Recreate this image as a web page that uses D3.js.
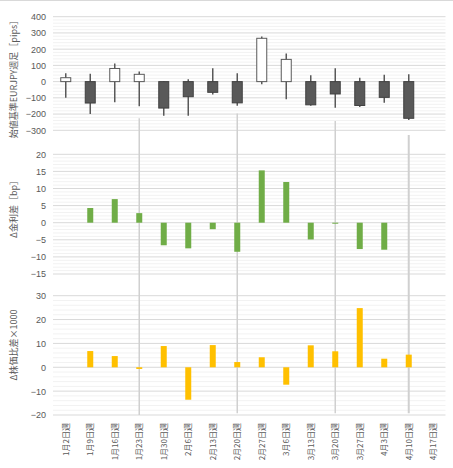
<!DOCTYPE html>
<html><head><meta charset="utf-8">
<script src="https://cdn.jsdelivr.net/npm/d3@7"></script>
<style>
body{margin:0;background:#fff;}
text{font-family:"Noto Sans CJK JP","Noto Sans",sans-serif;fill:#595959;}
</style></head>
<body><svg id="c" width="453" height="468"></svg>
<script>
const weeks = ["1月2日週","1月9日週","1月16日週","1月23日週","1月30日週","2月6日週","2月13日週","2月20日週","2月27日週","3月6日週","3月13日週","3月20日週","3月27日週","4月3日週","4月10日週","4月17日週"];
// EURJPY weekly candles, open-based (open = 0)
const candleClose = [24,-132,81,45,-163,-93,-66,-131,267,137,-143,-76,-147,-97,-226,null];
const candleHigh  = [52,48,111,63,3,14,83,52,278,174,39,83,24,42,45,null];
const candleLow   = [-100,-200,-127,-152,-210,-210,-80,-148,-16,-109,-149,-161,-157,-131,-236,null];
// Δ interest rate spread [bp]
const rateDiff = [null,4.3,6.9,2.8,-6.6,-7.5,-1.9,-8.5,15.3,11.9,-4.9,-0.2,-7.7,-7.9,null,null];
// Δ stock price ratio ×1000
const stockDiff = [null,6.8,4.7,-0.7,8.9,-13.6,9.3,2.2,4.2,-7.3,9.2,6.7,24.8,3.6,5.3,null];
const ticks1 = [400,300,200,100,0,-100,-200,-300];
const ticks2 = [20,15,10,5,0,-5,-10,-15];
const ticks3 = [30,20,10,0,-10,-20];
const markerWeeks = ["1月23日週","2月20日週","3月20日週","4月10日週"];
const markerTop = [-226,-196,-242,-329]; // in pips scale
const markerBottom = [-20,-19.3,-19.3,-19.3]; // in stock scale
const titles = ["始値基準EURJPY週足［pips］","Δ金利差［bp］","Δ株価比差×1000"];

const svg = d3.select("#c");
const x = d3.scaleBand().domain(weeks).range([53.5,445.5]);
const y1 = d3.scaleLinear().domain([-300,400]).range([130.3,16.7]);
const y2 = d3.scaleLinear().domain([-20,20]).range([291.1,154.3]);
const y3 = d3.scaleLinear().domain([-20,30]).range([415,295.7]);

svg.append("line").attr("x1",0).attr("x2",453).attr("y1",0.5).attr("y2",0.5).attr("stroke","#d9d9d9");

function grid(y, ticks, minor){
  const g = svg.append("g");
  const lo = d3.min(ticks), hi = d3.max(ticks);
  const mins = d3.range(lo, hi+1e-9, minor).filter(v=>!ticks.some(t=>Math.abs(t-v)<1e-9));
  g.selectAll(".mn").data(mins).join("line").attr("x1",53).attr("x2",445.5)
    .attr("y1",d=>y(d)).attr("y2",d=>y(d)).attr("stroke","#f2f2f2").attr("stroke-width",1);
  g.selectAll(".mj").data(ticks).join("line").attr("x1",53).attr("x2",445.5)
    .attr("y1",d=>y(d)).attr("y2",d=>y(d)).attr("stroke","#d9d9d9").attr("stroke-width",1);
  const ax = d3.axisLeft(y).tickValues(ticks).tickSize(0).tickPadding(0);
  const a = svg.append("g").attr("transform","translate(46,0)").call(ax);
  a.select(".domain").remove();
  a.selectAll("text").attr("font-size",9).attr("fill","#595959").style("font-family","'Liberation Sans',Arial,sans-serif");
}
grid(y1, ticks1, 20);
grid(y2, ticks2, 1);
grid(y3, ticks3, 2);

// marker vertical lines
svg.append("g").selectAll("line").data(markerWeeks).join("line")
  .attr("x1",d=>x(d)+x.bandwidth()/2).attr("x2",d=>x(d)+x.bandwidth()/2)
  .attr("y1",(d,i)=>y1(markerTop[i])).attr("y2",(d,i)=>y3(markerBottom[i]))
  .attr("stroke","#d0d0d0").attr("stroke-width",(d,i)=>i===3?2:1.5);

// candles
const cd = weeks.map((w,i)=>({w,c:candleClose[i],h:candleHigh[i],l:candleLow[i]})).filter(d=>d.c!==null);
const cg = svg.append("g");
const bw = 10;
cg.selectAll(".wick").data(cd).join("line")
  .attr("x1",d=>x(d.w)+x.bandwidth()/2).attr("x2",d=>x(d.w)+x.bandwidth()/2)
  .attr("y1",d=>y1(d.h)).attr("y2",d=>y1(d.l)).attr("stroke","#595959").attr("stroke-width",1.5);
cg.selectAll(".body").data(cd).join("rect")
  .attr("x",d=>x(d.w)+x.bandwidth()/2-bw/2).attr("width",bw)
  .attr("y",d=>y1(Math.max(0,d.c))).attr("height",d=>Math.abs(y1(d.c)-y1(0)))
  .attr("fill",d=>d.c>=0?"#ffffff":"#595959").attr("stroke",d=>d.c>=0?"#595959":"#404040").attr("stroke-width",1);

// bars
function bars(vals, y, color){
  const d = weeks.map((w,i)=>({w,v:vals[i]})).filter(d=>d.v!==null);
  svg.append("g").selectAll("rect").data(d).join("rect")
    .attr("x",d=>x(d.w)+x.bandwidth()/2-3).attr("width",6)
    .attr("y",d=>y(Math.max(0,d.v))).attr("height",d=>Math.max(1,Math.abs(y(d.v)-y(0))))
    .attr("fill",color);
}
bars(rateDiff, y2, "#70ad47");
bars(stockDiff, y3, "#ffc000");

// x labels
svg.append("g").selectAll("text").data(weeks).join("text")
  .attr("transform",d=>`translate(${x(d)+x.bandwidth()/2},423) rotate(-90)`)
  .attr("text-anchor","end").attr("dy","0.35em").attr("font-size",8).text(d=>d);

// axis titles
const tpos = [[14,77],[14,207],[14,345]];
svg.append("g").selectAll("text").data(titles).join("text")
  .attr("transform",(d,i)=>`translate(${tpos[i][0]},${tpos[i][1]}) rotate(-90)`)
  .attr("text-anchor","middle").attr("dy","0.35em").attr("font-size",9).text(d=>d);
</script></body></html>
